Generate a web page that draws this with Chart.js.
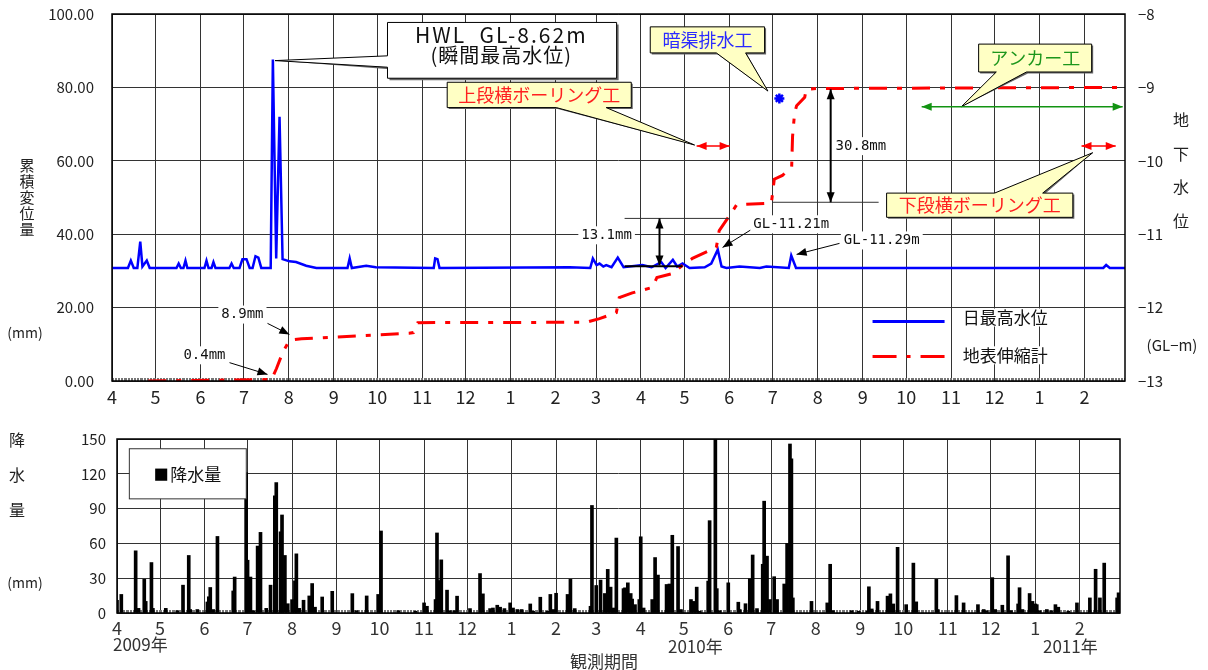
<!DOCTYPE html>
<html>
<head>
<meta charset="utf-8">
<script src="https://cdn.jsdelivr.net/npm/chart.js@4.4.1/dist/chart.umd.min.js"></script>
<style>
  body { margin: 0; background: #fff; width: 1208px; height: 670px; overflow: hidden; position: relative; }
  #c1 { position: absolute; left: 0; top: 0; }
  #c2 { position: absolute; left: 0; top: 420px; }
</style>
</head>
<body>
<canvas id="c1" width="1208" height="420"></canvas>
<canvas id="c2" width="1208" height="250"></canvas>
<script>
// days counted from 2009-04-01
const monthStarts = [0,30,61,91,122,153,183,214,244,275,306,334,365,395,426,456,487,518,548,579,609,640,671];
const monthLabels = ['4','5','6','7','8','9','10','11','12','1','2','3','4','5','6','7','8','9','10','11','12','1','2'];
const lastDay = 699;

// 日最高水位 (GL-m)
const levelDay = [0,11,13,15,17.5,19.5,21,24,26,44.5,46,47.5,49.3,50.7,52,63.8,65.2,66.6,68.7,70,71.4,81,82.5,84,
  88,90,92.8,95,97,99,101,103,109.5,111,113.3,115.6,117.7,122.5,127,134,141,162.5,164,165.5,175.4,182,
  222,223,224.6,226,315.7,330,331.8,334.4,336.4,339,341,344.7,349,353,366,372.3,379,382,387,390,393.7,398.5,
  409,413.5,418,420.6,424,433,447,451.5,467,468.7,472,543.5,684,686,688.5,699];
const levelGL = [-11.46,-11.46,-11.36,-11.46,-11.46,-11.10,-11.44,-11.36,-11.46,-11.46,-11.40,-11.46,-11.46,-11.36,-11.46,
  -11.46,-11.36,-11.46,-11.46,-11.38,-11.46,-11.46,-11.40,-11.46,-11.46,-11.34,-11.34,-11.46,-11.46,-11.30,-11.32,-11.46,
  -11.46,-8.62,-11.33,-9.40,-11.34,-11.37,-11.38,-11.43,-11.46,-11.46,-11.33,-11.46,-11.43,-11.45,
  -11.46,-11.33,-11.34,-11.46,-11.45,-11.46,-11.33,-11.42,-11.40,-11.44,-11.42,-11.45,-11.32,-11.45,
  -11.42,-11.45,-11.38,-11.46,-11.35,-11.44,-11.40,-11.46,-11.45,-11.40,-11.21,-11.44,-11.46,-11.44,-11.46,-11.44,
  -11.46,-11.29,-11.46,-11.46,-11.46,-11.42,-11.46,-11.46];

// 地表伸縮計 累積変位量 (mm)
const strainDay = [25,110,113.5,117.6,122.4,130.8,205,208,211,327.4,336.4,348,350,359,373,376,387,396,400.5,
  417,419,426,431,455,457,462.6,469,469.6,471,472.4,478,479,486,699];
const strainMm = [0.0,0.4,3.4,7.6,11.1,11.5,13.0,13.2,15.9,16.0,17.0,18.6,22.7,24.0,25.5,28.2,29.3,32.3,33.4,
  36.4,41.0,45.0,48.0,48.5,55.0,56.0,58.4,66.6,73.0,75.0,77.3,79.5,79.7,80.0];

// 暗渠排水工 marker
const drainDay = [460.5];
const drainMm = [77.0];

// 降水量 (mm/day)
const rainDay = [0,3,13,15,19,20,24,25,34,42,46,50,51,56,63,64,65,67,70,81,82,90,91,93,95,98,100,104,107,110,
  111,114,115,117,119,122,124,125,127,130,134,136,138,143,150,164,167,174,182,184,196,
  208,214,216,222,223,225,226,230,232,235,237,246,253,255,260,262,265,267,270,274,276,279,282,288,290,295,300,302,304,306,
  314,316,319,330,331,334,337,340,342,344,346,348,353,354,356,358,359,361,364,365,367,373,375,377,383,385,387,391,393,400,
  402,404,406,412,413,417,418,420,426,433,434,438,441,443,446,450,451,453,455,458,460,465,467,469,470,471,
  484,495,497,499,512,517,523,524,526,530,537,539,541,544,550,555,557,571,572,585,590,600,604,606,610,612,617,621,623,628,
  629,631,636,638,640,641,643,648,651,654,656,663,669,678,682,685,688,697,698];
const rainMm = [11,16,53.6,4,29,10,43.5,4,4,2,24,49.6,3,3,9.5,14,22,3,66,19,31,121,45.5,31,2,57.7,69.5,4,24,101,
  112.5,70,84.5,49.6,8,11.5,27.7,51,4,11,14.7,25.4,5,13.8,18.7,16.7,2,14.7,16,70.7,2,
  1.5,8.7,5.8,11.6,69,28,45.8,19.7,2,2,14.5,3.8,34,16.5,3.8,4.3,6.7,5,3.8,8.7,4.3,3,3,7.8,1.5,13.6,1.5,16,3,17,
  16,29,3.8,5.8,92.7,23.7,28.4,16.8,37.6,22.3,4.3,64.6,21,21.7,26,16.8,12,7.2,11.6,65.7,4.3,11.6,47.8,32.7,24.6,25,67,57.3,3,11.6,
  10,22.3,1.5,27.5,79.6,150,21,2,26,9.3,3,8,29.5,50,3.8,42,96.4,49,11.6,31.3,11.6,25,60,145.7,133,13,
  10,8.7,42,2,2,1.5,1.5,22.6,3.5,10,14.5,16.5,7.8,56.6,7.2,43,9.6,29,3,15,8.7,7.2,3,2,30.5,3,6.7,49.3,2,7.8,
  21.8,3,16.8,10,7.8,7.2,2,3,2,7.2,5,1.5,8.7,13,37.7,13,43,13,17.4];

const FJ = '"Noto Sans CJK JP", "Noto Sans", sans-serif';
const FM = '"DejaVu Sans Mono", monospace';
const YELLOW = '#ffffc4';

function monthTicks(scale) { scale.ticks = monthStarts.map(v => ({ value: v })); }
function monthLabel(v) { const i = monthStarts.indexOf(v); return i >= 0 ? monthLabels[i] : ''; }
function fitY(w) { return s => { s.width = w; s.paddingTop = 0; s.paddingBottom = 0; }; }
function fitX(h) { return s => { s.height = h; s.paddingLeft = 0; s.paddingRight = 0; }; }

function txt(ctx, s, x, y, font, color, align, bg) {
  ctx.font = font; ctx.textAlign = align || 'center'; ctx.textBaseline = 'middle';
  if (bg) {
    const w = ctx.measureText(s).width;
    const l = ctx.textAlign === 'center' ? x - w / 2 : ctx.textAlign === 'left' ? x : x - w;
    ctx.fillStyle = bg; ctx.fillRect(l - 3, y - 9, w + 6, 18);
  }
  ctx.fillStyle = color; ctx.fillText(s, x, y);
}

function head(ctx, x1, y1, x2, y2, len, wid) {
  const a = Math.atan2(y2 - y1, x2 - x1), c = Math.cos(a), s = Math.sin(a);
  ctx.beginPath();
  ctx.moveTo(x2, y2);
  ctx.lineTo(x2 - len * c + wid * s, y2 - len * s - wid * c);
  ctx.lineTo(x2 - len * c - wid * s, y2 - len * s + wid * c);
  ctx.closePath(); ctx.fill();
}
function arrow(ctx, x1, y1, x2, y2, color, lw, both) {
  ctx.strokeStyle = color; ctx.fillStyle = color; ctx.lineWidth = lw;
  ctx.beginPath(); ctx.moveTo(x1, y1); ctx.lineTo(x2, y2); ctx.stroke();
  head(ctx, x1, y1, x2, y2, 10, 4);
  if (both) head(ctx, x2, y2, x1, y1, 10, 4);
}

function calloutPath(ctx, box, edge, b1, b2, tip, dx, dy) {
  const l = box[0] + dx, t = box[1] + dy, r = box[2] + dx, b = box[3] + dy;
  ctx.beginPath();
  ctx.moveTo(l, t);
  if (edge === 'top') { ctx.lineTo(b1 + dx, t); ctx.lineTo(tip[0], tip[1]); ctx.lineTo(b2 + dx, t); }
  ctx.lineTo(r, t); ctx.lineTo(r, b);
  if (edge === 'bottom') { ctx.lineTo(b2 + dx, b); ctx.lineTo(tip[0], tip[1]); ctx.lineTo(b1 + dx, b); }
  ctx.lineTo(l, b);
  if (edge === 'left') { ctx.lineTo(l, b2 + dy); ctx.lineTo(tip[0], tip[1]); ctx.lineTo(l, b1 + dy); }
  ctx.closePath();
}
function callout(ctx, box, edge, b1, b2, tip, fill, shadow) {
  if (shadow) {
    calloutPath(ctx, box, edge, b1, b2, tip, shadow, shadow);
    ctx.fillStyle = '#666'; ctx.fill();
  }
  calloutPath(ctx, box, edge, b1, b2, tip, 0, 0);
  ctx.fillStyle = fill; ctx.fill();
  ctx.strokeStyle = '#000'; ctx.lineWidth = 1; ctx.stroke();
}

function dayStrip(chart) {
  const ctx = chart.ctx, a = chart.chartArea, xs = chart.scales.x;
  ctx.save();
  ctx.strokeStyle = '#777'; ctx.lineWidth = 1;
  ctx.beginPath();
  for (let d = 1; d < lastDay; d++) {
    const x = Math.round(xs.getPixelForValue(d)) + 0.5;
    ctx.moveTo(x, a.bottom); ctx.lineTo(x, a.bottom - 3);
  }
  ctx.stroke();
  ctx.restore();
}
function frame(chart, lw) {
  const ctx = chart.ctx, a = chart.chartArea;
  ctx.save(); ctx.strokeStyle = '#000'; ctx.lineWidth = lw;
  ctx.strokeRect(a.left, a.top, a.right - a.left, a.bottom - a.top);
  ctx.restore();
}

const topDecor = {
  id: 'topDecor',
  beforeDatasetsDraw(chart) { dayStrip(chart); },
  afterDatasetsDraw(chart) {
    const ctx = chart.ctx, xs = chart.scales.x, ys = chart.scales.yL;
    const X = d => xs.getPixelForValue(d), Y = v => ys.getPixelForValue(v);
    frame(chart, 1.5);
    ctx.save();

    // 瞬間最高水位
    callout(ctx, [X(190.1), Y(97.7), X(348.2), Y(82.5)], 'left', Y(88.6), Y(85.5), [X(112.5), Y(87.3)], '#fff', 2);
    ctx.letterSpacing = '2px';
    txt(ctx, 'HWL  GL-8.62m', X(268.6), Y(94.3), '21px ' + FJ, '#111');
    ctx.letterSpacing = '1px';
    txt(ctx, '(瞬間最高水位)', X(268.6), Y(88.8), '20px ' + FJ, '#111');
    ctx.letterSpacing = '0px';

    // 工種の吹き出し
    callout(ctx, [X(371.4), Y(96.5), X(450.3), Y(89.4)], 'bottom', X(417), X(437.2), [X(452.6), Y(79.0)], YELLOW, 1.5);
    txt(ctx, '暗渠排水工', X(410.9), Y(92.9), '18px ' + FJ, '#2a2aff');
    callout(ctx, [X(231.3), Y(81.4), X(358.3), Y(74.5)], 'bottom', X(306.6), X(341), [X(402), Y(64.3)], YELLOW, 1.5);
    txt(ctx, '上段横ボーリング工', X(294.8), Y(78.0), '18px ' + FJ, '#ff2020');
    callout(ctx, [X(598), Y(91.8), X(676), Y(84.2)], 'bottom', X(610.2), X(631), [X(586), Y(74.7)], YELLOW, 1.5);
    txt(ctx, 'アンカー工', X(637), Y(88.0), '18px ' + FJ, '#1c961c');
    callout(ctx, [X(534.5), Y(51.2), X(663), Y(44.6)], 'top', X(609), X(642.2), [X(676.7), Y(62.2)], YELLOW, 1.5);
    txt(ctx, '下段横ボーリング工', X(598.8), Y(47.9), '18px ' + FJ, '#ff2020');

    // 施工期間
    arrow(ctx, X(403.4), Y(64), X(426.2), Y(64), '#ff0000', 1.5, true);
    arrow(ctx, X(669), Y(64), X(692.6), Y(64), '#ff0000', 1.5, true);
    arrow(ctx, X(558.7), Y(74.7), X(697.4), Y(74.7), '#129312', 1.5, true);

    // 変位量の寸法線
    ctx.strokeStyle = '#333'; ctx.lineWidth = 1;
    ctx.beginPath();
    ctx.moveTo(X(455.9), Y(48.7)); ctx.lineTo(X(529), Y(48.7));
    ctx.moveTo(X(353.7), Y(44.3)); ctx.lineTo(X(426.2), Y(44.3));
    ctx.stroke();
    ctx.strokeStyle = '#000'; ctx.lineWidth = 2;
    ctx.beginPath(); ctx.moveTo(X(353.7), Y(31.3)); ctx.lineTo(X(393.7), Y(31.3)); ctx.stroke();
    arrow(ctx, X(495.9), Y(79.5), X(495.9), Y(48.7), '#000', 2, true);
    arrow(ctx, X(377.8), Y(44.3), X(377.8), Y(31.5), '#000', 2, true);
    txt(ctx, '30.8mm', X(499.3), Y(64.0), '14px ' + FM, '#111', 'left', '#fff');
    txt(ctx, '13.1mm', X(341.3), Y(39.7), '14px ' + FM, '#111', 'center', '#fff');

    arrow(ctx, X(441.3), Y(41.3), X(421.3), Y(36.4), '#000', 1, false);
    txt(ctx, 'GL-11.21m', X(442.5), Y(42.7), '14px ' + FM, '#111', 'left', '#fff');
    arrow(ctx, X(502), Y(37.5), X(472.4), Y(34.5), '#000', 1, false);
    txt(ctx, 'GL-11.29m', X(505), Y(38.3), '14px ' + FM, '#111', 'left', '#fff');
    txt(ctx, '8.9mm', X(90), Y(18.1), '14px ' + FM, '#111', 'center', '#fff');
    arrow(ctx, X(107.3), Y(15.7), X(122.4), Y(12.7), '#000', 1, false);
    txt(ctx, '0.4mm', X(63.8), Y(7.0), '14px ' + FM, '#111', 'center', '#fff');
    arrow(ctx, X(81.1), Y(5.0), X(107.3), Y(1.8), '#000', 1, false);

    // 凡例
    txt(ctx, '日最高水位', X(587), Y(17.3), '17px ' + FJ, '#111', 'left', '#fff');
    txt(ctx, '地表伸縮計', X(587), Y(7.0), '17px ' + FJ, '#111', 'left', '#fff');
    ctx.lineWidth = 3;
    ctx.strokeStyle = '#0000ff';
    ctx.beginPath(); ctx.moveTo(X(524.8), Y(16.2)); ctx.lineTo(X(574.5), Y(16.2)); ctx.stroke();
    ctx.strokeStyle = '#ff0000'; ctx.setLineDash([24, 10, 4, 10]);
    ctx.beginPath(); ctx.moveTo(X(524.8), Y(6.7)); ctx.lineTo(X(574.5), Y(6.7)); ctx.stroke();
    ctx.setLineDash([]);
    ctx.restore();
  },
  afterDraw(chart) {
    const ctx = chart.ctx;
    ctx.save();
    ['累', '積', '変', '位', '量'].forEach((c, i) => txt(ctx, c, 27, 165 + i * 16, '15px ' + FJ, '#222'));
    txt(ctx, '(mm)', 25, 333, '14px ' + FJ, '#222');
    ['地', '下', '水', '位'].forEach((c, i) => txt(ctx, c, 1181, 120 + i * 33.5, '16px ' + FJ, '#222'));
    txt(ctx, '(GL\u2212m)', 1172, 345, '15px ' + FJ, '#222');
    ctx.restore();
  }
};

const botDecor = {
  id: 'botDecor',
  beforeDatasetsDraw(chart) { dayStrip(chart); },
  afterDatasetsDraw(chart) {
    const ctx = chart.ctx, xs = chart.scales.x, ys = chart.scales.y;
    const X = d => xs.getPixelForValue(d), Y = v => ys.getPixelForValue(v);
    frame(chart, 1.5);
    ctx.save();
    ctx.fillStyle = '#fff'; ctx.strokeStyle = '#333'; ctx.lineWidth = 1;
    const l = X(8.6), t = Y(141.6), r = X(90.1), b = Y(98.4);
    ctx.fillRect(l, t, r - l, b - t); ctx.strokeRect(l, t, r - l, b - t);
    ctx.fillStyle = '#000';
    ctx.fillRect(X(26.6), Y(124.5), X(35) - X(26.6), Y(114) - Y(124.5));
    txt(ctx, '降水量', X(37.1), Y(119.2), '17px ' + FJ, '#111', 'left');
    ctx.restore();
  },
  afterDraw(chart) {
    const ctx = chart.ctx;
    ctx.save();
    ['降', '水', '量'].forEach((c, i) => txt(ctx, c, 17, 20 + i * 35, '16px ' + FJ, '#222'));
    txt(ctx, '(mm)', 25, 163, '14px ' + FJ, '#222');
    txt(ctx, '2009年', 113, 225, '17px ' + FJ, '#333', 'left');
    txt(ctx, '2010年', 668, 227, '17px ' + FJ, '#333', 'left');
    txt(ctx, '2011年', 1043, 227, '17px ' + FJ, '#333', 'left');
    txt(ctx, '観測期間', 604, 242, '17px ' + FJ, '#333');
    ctx.restore();
  }
};

Chart.defaults.font.family = FJ;

new Chart(document.getElementById('c1'), {
  type: 'line',
  data: {
    datasets: [
      {
        type: 'scatter', label: '暗渠排水工', yAxisID: 'yL',
        data: drainDay.map((d, i) => ({ x: d, y: drainMm[i] })),
        pointStyle: 'star', pointRadius: 5, borderColor: '#0000ff', backgroundColor: '#0000ff', borderWidth: 2.5
      },
      {
        label: '地表伸縮計', yAxisID: 'yL',
        data: strainDay.map((d, i) => ({ x: d, y: strainMm[i] })),
        borderColor: '#ff0000', borderWidth: 3, borderDash: [18, 10, 5, 10],
        pointRadius: 0, tension: 0, fill: false
      },
      {
        label: '日最高水位', yAxisID: 'yR',
        data: levelDay.map((d, i) => ({ x: d, y: levelGL[i] })),
        borderColor: '#0000ff', borderWidth: 2.5, pointRadius: 0, tension: 0, fill: false
      }
    ]
  },
  options: {
    responsive: false, animation: false, devicePixelRatio: 1,
    layout: { padding: { top: 14, left: 0, right: 0, bottom: 0 } },
    plugins: { legend: { display: false }, tooltip: { enabled: false } },
    scales: {
      x: {
        type: 'linear', min: 0, max: lastDay,
        afterBuildTicks: monthTicks,
        afterFit: fitX(39),
        grid: { color: '#333', lineWidth: 1, drawTicks: false },
        border: { display: false },
        ticks: { callback: monthLabel, autoSkip: false, maxRotation: 0, padding: 5, color: '#222', font: { size: 18 } }
      },
      yL: {
        position: 'left', min: 0, max: 100,
        afterFit: fitY(112),
        grid: { color: '#333', lineWidth: 1, drawTicks: false },
        border: { display: false },
        ticks: { stepSize: 20, padding: 18, color: '#222', font: { size: 15 }, callback: v => v.toFixed(2) }
      },
      yR: {
        position: 'right', min: -13, max: -8,
        afterFit: fitY(83),
        grid: { display: false, drawTicks: false },
        border: { display: false },
        ticks: { stepSize: 1, padding: 13, color: '#222', font: { size: 15 }, callback: v => '\u2212' + Math.abs(v) }
      }
    }
  },
  plugins: [topDecor]
});

new Chart(document.getElementById('c2'), {
  type: 'bar',
  data: {
    datasets: [{
      label: '降水量',
      data: rainDay.map((d, i) => ({ x: d, y: rainMm[i] })),
      backgroundColor: '#000', borderWidth: 0, barThickness: 3
    }]
  },
  options: {
    responsive: false, animation: false, devicePixelRatio: 1,
    layout: { padding: { top: 19, left: 0, right: 88, bottom: 0 } },
    plugins: { legend: { display: false }, tooltip: { enabled: false } },
    scales: {
      x: {
        type: 'linear', min: 0, max: lastDay, offset: false,
        afterBuildTicks: monthTicks,
        afterFit: fitX(57),
        grid: { color: '#333', lineWidth: 1, drawTicks: false, offset: false },
        border: { display: false },
        ticks: { callback: monthLabel, autoSkip: false, maxRotation: 0, padding: 4, color: '#333', font: { size: 18 } }
      },
      y: {
        min: 0, max: 150,
        afterFit: fitY(117),
        grid: { color: '#333', lineWidth: 1, drawTicks: false },
        border: { display: false },
        ticks: { stepSize: 30, padding: 11, color: '#222', font: { size: 15 } }
      }
    }
  },
  plugins: [botDecor]
});
</script>
</body>
</html>
